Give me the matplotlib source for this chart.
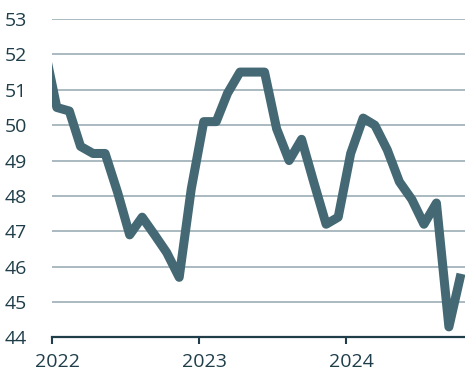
import pandas as pd
import matplotlib
matplotlib.use('Agg')
import matplotlib.pyplot as plt
import matplotlib.dates as mdates

# monthly readings, Dec 2021 .. Oct 2024 (plotted mid-month)
months = pd.date_range('2021-12-01', '2024-10-01', freq='MS') + pd.Timedelta(days=12)
values = [52.2,
          50.5, 50.4, 49.4, 49.2, 49.2, 48.1, 46.9, 47.4, 46.9, 46.4, 45.7, 48.2,
          50.1, 50.1, 50.9, 51.5, 51.5, 51.5, 49.9, 49.0, 49.6, 48.4, 47.2, 47.4,
          49.2, 50.2, 50.0, 49.3, 48.4, 47.9, 47.2, 47.8, 44.3, 45.8]
years = [2022, 2023, 2024]
y_ticks = list(range(44, 54))

line_col = '#446874'
text_col = '#1f3e4a'
grid_col = '#a9bac0'

plt.rcParams['font.family'] = ['Open Sans', 'DejaVu Sans']

fig = plt.figure(figsize=(4.65, 3.74), dpi=100)
ax = fig.add_axes([0.1118, 0.0976, 0.8882, 0.8516])

ax.plot(months, values, color=line_col, linewidth=6.5,
        solid_joinstyle='round', solid_capstyle='butt', zorder=3)

ax.set_xlim(pd.Timestamp('2022-01-01'), pd.Timestamp('2024-10-23'))
ax.set_ylim(44, 53)

ax.set_yticks(y_ticks)
ax.set_yticklabels([str(v) for v in y_ticks])
ax.grid(axis='y', color=grid_col, linewidth=1.4)
ax.set_axisbelow(True)

# tick marks on Jan 1, labels a bit to the right
ax.set_xticks([pd.Timestamp(f'{y}-01-01') for y in years])
ax.set_xticklabels([])
ax.set_xticks([pd.Timestamp(f'{y}-01-14') for y in years], minor=True)
ax.set_xticklabels([str(y) for y in years], minor=True)
ax.tick_params(axis='x', which='major', length=5, width=1.5, color=text_col, direction='out')
ax.tick_params(axis='x', which='minor', length=0, pad=11, labelsize=14, labelcolor=text_col)
ax.tick_params(axis='y', length=0, pad=18, labelsize=14, labelcolor=text_col)

for s in ['top', 'right', 'left']:
    ax.spines[s].set_visible(False)
ax.spines['bottom'].set_color(text_col)
ax.spines['bottom'].set_linewidth(1.6)
ax.spines['bottom'].set_zorder(4)

plt.savefig('out.png', dpi=100)
